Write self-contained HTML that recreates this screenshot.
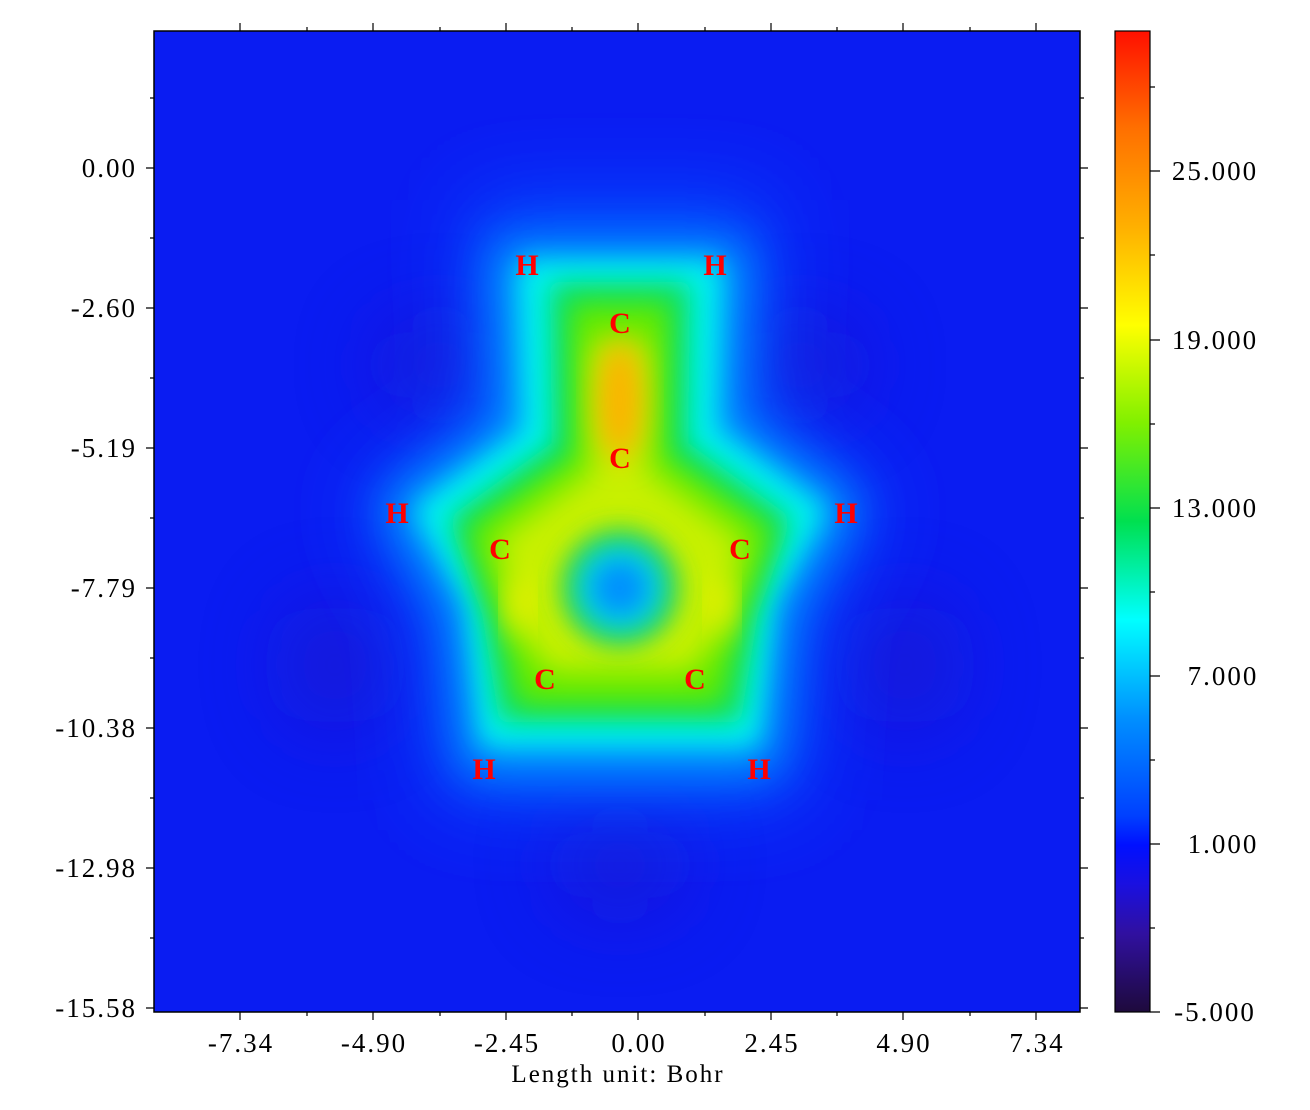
<!DOCTYPE html>
<html><head><meta charset="utf-8"><style>
body{margin:0;background:#fff;}
svg text{font-family:"Liberation Serif",serif;}
</style></head><body>
<svg width="1310" height="1105" viewBox="0 0 1310 1105" xmlns="http://www.w3.org/2000/svg">
<defs>
<clipPath id="pc"><rect x="154" y="31" width="926" height="981"/></clipPath>
<filter id="b40" x="-50%" y="-50%" width="200%" height="200%"><feGaussianBlur stdDeviation="45"/></filter>
<filter id="b25" x="-50%" y="-50%" width="200%" height="200%"><feGaussianBlur stdDeviation="24"/></filter>
<filter id="b15" x="-50%" y="-50%" width="200%" height="200%"><feGaussianBlur stdDeviation="15"/></filter>
<filter id="b10" x="-50%" y="-50%" width="200%" height="200%"><feGaussianBlur stdDeviation="13"/></filter>
<linearGradient id="cb" x1="0" y1="1" x2="0" y2="0">
<stop offset="0" stop-color="#1e0a3c"/>
<stop offset="0.08" stop-color="#3010a0"/>
<stop offset="0.13" stop-color="#1a10e0"/>
<stop offset="0.17" stop-color="#0010ff"/>
<stop offset="0.2" stop-color="#0040ff"/>
<stop offset="0.3" stop-color="#0090ff"/>
<stop offset="0.4" stop-color="#00ffff"/>
<stop offset="0.5" stop-color="#00e050"/>
<stop offset="0.6" stop-color="#80f000"/>
<stop offset="0.7" stop-color="#ffff00"/>
<stop offset="0.8" stop-color="#ffb000"/>
<stop offset="0.9" stop-color="#ff7000"/>
<stop offset="1" stop-color="#ff1000"/>
</linearGradient>
</defs>
<g clip-path="url(#pc)">
<rect x="154" y="31" width="926" height="981" fill="#0a1cf2"/>
<g filter="url(#b40)" fill="#2a12b8" opacity="0.6">
<ellipse cx="440" cy="365" rx="60" ry="40"/>
<ellipse cx="800" cy="365" rx="60" ry="40"/>
<ellipse cx="335" cy="665" rx="45" ry="60"/>
<ellipse cx="905" cy="665" rx="45" ry="60"/>
<ellipse cx="620" cy="865" rx="60" ry="40"/>
</g>
<g stroke-linejoin="round">
<path filter="url(#b40)" fill="#0050ff" d="M470,200 L770,200 L760,420 L880,500 L810,620 L800,800 L440,800 L430,620 L360,500 L480,420 Z"/>
<path filter="url(#b25)" fill="#0098ff" stroke="#0098ff" stroke-width="20" d="M500,250 L740,250 L730,425 L850,505 L785,610 L770,765 L470,765 L455,610 L390,505 L510,425 Z"/>
<path filter="url(#b10)" fill="#00f0f0" stroke="#00f0f0" stroke-width="24" d="M530,272 L710,272 L705,435 L812,512 L762,600 L748,735 L492,735 L478,600 L428,512 L535,435 Z"/>
<path filter="url(#b10)" fill="#10e060" stroke="#10e060" stroke-width="20" d="M560,292 L680,292 L678,448 L780,522 L748,612 L732,712 L508,712 L492,612 L460,522 L562,448 Z"/>
<path filter="url(#b10)" fill="#60ea00" stroke="#60ea00" stroke-width="14" d="M578,310 L662,310 L660,458 L765,532 L732,622 L716,698 L524,698 L508,622 L475,532 L580,458 Z"/>
<path filter="url(#b15)" fill="#c8f000" d="M592,340 L648,340 L648,470 L745,540 L722,630 L692,672 L548,672 L518,630 L495,540 L592,470 Z"/>
</g>
<ellipse filter="url(#b15)" cx="620" cy="400" rx="22" ry="60" fill="#ffb000"/>
<ellipse filter="url(#b15)" cx="518" cy="605" rx="10" ry="28" fill="#fff000"/>
<ellipse filter="url(#b15)" cx="722" cy="605" rx="10" ry="28" fill="#fff000"/>
<circle filter="url(#b10)" cx="620" cy="588" r="60" fill="#30d850"/>
<circle filter="url(#b10)" cx="620" cy="588" r="44" fill="#00d8e0"/>
<circle filter="url(#b10)" cx="620" cy="588" r="28" fill="#0090ff"/>
</g>
<rect x="154" y="31" width="926" height="981" fill="none" stroke="#000" stroke-width="1.5"/>
<g fill="#ff0000" font-weight="bold" font-size="30" text-anchor="middle" style="font-family:'Liberation Mono',monospace">
<text x="620" y="333">C</text><text x="620" y="468">C</text>
<text x="500" y="559">C</text><text x="740" y="559">C</text>
<text x="545" y="689">C</text><text x="695" y="689">C</text>
<text x="527" y="275">H</text><text x="715" y="275">H</text>
<text x="397" y="523">H</text><text x="846" y="523">H</text>
<text x="484" y="779">H</text><text x="759" y="779">H</text>
</g>
<g stroke="#000" stroke-width="1.2">
<path d="M146,168H154M146,308H154M146,448H154M146,588H154M146,728H154M146,868H154M146,1008H154M150,98H154M150,238H154M150,378H154M150,518H154M150,658H154M150,798H154M150,938H154"/>
<path d="M1080,168H1088M1080,308H1088M1080,448H1088M1080,588H1088M1080,728H1088M1080,868H1088M1080,1008H1088M1080,98H1084M1080,238H1084M1080,378H1084M1080,518H1084M1080,658H1084M1080,798H1084M1080,938H1084"/>
<path d="M240,1012V1020M373,1012V1020M506,1012V1020M638,1012V1020M771,1012V1020M903,1012V1020M1036,1012V1020M307,1012V1016M440,1012V1016M572,1012V1016M705,1012V1016M837,1012V1016M970,1012V1016"/>
<path d="M240,31V23M373,31V23M506,31V23M638,31V23M771,31V23M903,31V23M1036,31V23M307,31V27M440,31V27M572,31V27M705,31V27M837,31V27M970,31V27"/>
</g>
<g font-size="27" text-anchor="end" fill="#000" letter-spacing="2">
<text x="137" y="177">0.00</text><text x="137" y="317">-2.60</text><text x="137" y="457">-5.19</text>
<text x="137" y="597">-7.79</text><text x="137" y="737">-10.38</text><text x="137" y="877">-12.98</text><text x="137" y="1017">-15.58</text>
</g>
<g font-size="27" text-anchor="middle" fill="#000" letter-spacing="2">
<text x="241" y="1052">-7.34</text><text x="374" y="1052">-4.90</text><text x="507" y="1052">-2.45</text>
<text x="639" y="1052">0.00</text><text x="772" y="1052">2.45</text><text x="904" y="1052">4.90</text><text x="1037" y="1052">7.34</text>
<text x="618" y="1082" font-size="25">Length unit: Bohr</text>
</g>
<rect x="1115" y="31" width="35" height="981" fill="url(#cb)" stroke="#000" stroke-width="1.2"/>
<g stroke="#000" stroke-width="1.2">
<path d="M1150,171H1160M1150,340H1160M1150,508H1160M1150,676H1160M1150,844H1160M1150,1012H1160M1150,87H1155M1150,255H1155M1150,424H1155M1150,592H1155M1150,760H1155M1150,928H1155"/>
</g>
<g font-size="27" fill="#000" text-anchor="middle" letter-spacing="2">
<text x="1215" y="180">25.000</text><text x="1215" y="349">19.000</text><text x="1215" y="517">13.000</text>
<text x="1223" y="685">7.000</text><text x="1223" y="853">1.000</text><text x="1215" y="1021">-5.000</text>
</g>
</svg>
</body></html>
